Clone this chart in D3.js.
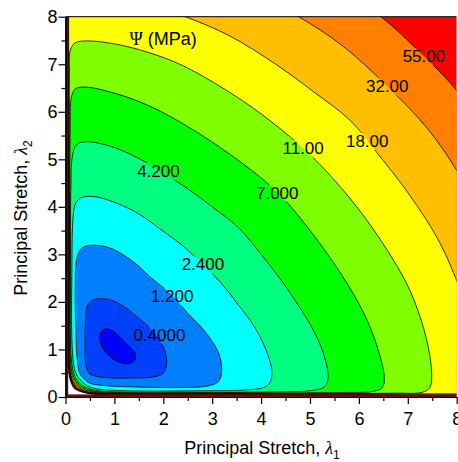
<!DOCTYPE html>
<html>
<head>
<meta charset="utf-8">
<script src="https://cdn.jsdelivr.net/npm/d3@7"></script>
<style>
  body { margin: 0; background: #fff; }
  svg { display: block; font-family: Arial, "Liberation Sans", sans-serif; }
</style>
</head>
<body>
<svg id="chart" width="458" height="462"></svg>
<script>
// contour levels of the strain energy (MPa) and the band colours (band i lies below level i)
const levels = [0.1, 0.4, 1.2, 2.4, 4.2, 7.0, 11, 18, 32, 55];
const bandColors = ['#0000ff', '#0040ff', '#0080ff', '#00ffff', '#00ff80', '#00ff00',
                    '#80ff00', '#ffff00', '#ffbf00', '#ff8000', '#ff0000'];

// contour lines, [lambda1, lambda2]
const c0_1 = [[0.70,1.30],[0.78,1.42],[0.92,1.42],[1.10,1.27],[1.27,1.10],[1.42,0.92],[1.42,0.78],
              [1.30,0.70],[1.12,0.72],[0.95,0.82],[0.82,0.95],[0.72,1.12]];
const c0_4 = [[0.41,1.60],[0.44,1.90],[0.55,2.03],[0.72,2.07],[0.95,2.03],[1.20,1.90],[1.45,1.70],
              [1.70,1.48],[1.90,1.25],[2.03,0.97],[2.07,0.72],[2.00,0.50],[1.80,0.42],[1.40,0.40],
              [0.95,0.40],[0.65,0.43],[0.48,0.50],[0.42,0.65],[0.40,0.95],[0.40,1.30]];
const c1_2 = [[0.20,2.30],[0.23,2.90],[0.32,3.12],[0.50,3.19],[0.90,3.14],[1.38,2.85],[1.76,2.50],
              [2.17,2.15],[2.50,1.76],[2.85,1.38],[3.14,0.90],[3.19,0.50],[3.12,0.32],[2.90,0.23],
              [2.30,0.20],[1.50,0.21],[0.80,0.24],[0.50,0.29],[0.38,0.38],[0.29,0.50],[0.24,0.80],
              [0.21,1.50]];
const c2_4 = [[0.13,2.60],[0.15,3.70],[0.20,4.05],[0.30,4.18],[0.56,4.22],[1.04,4.08],[1.50,3.85],
              [1.93,3.54],[2.40,3.18],[2.80,2.80],[3.18,2.40],[3.54,1.93],[3.85,1.50],[4.08,1.04],
              [4.22,0.56],[4.18,0.30],[4.05,0.20],[3.70,0.15],[2.60,0.13],[1.50,0.125],[0.90,0.145],
              [0.60,0.18],[0.44,0.24],[0.33,0.33],[0.24,0.44],[0.18,0.60],[0.145,0.90],[0.125,1.50]];
const c4_2 = [[0.10,2.20],[0.11,4.40],[0.14,5.05],[0.22,5.30],[0.42,5.37],[0.90,5.28],[1.40,5.07],
              [1.90,4.78],[2.50,4.38],[3.00,4.00],[3.55,3.55],[4.00,3.00],[4.38,2.50],[4.78,1.90],
              [5.07,1.40],[5.28,0.90],[5.37,0.42],[5.30,0.22],[5.05,0.14],[4.40,0.11],[2.20,0.10],
              [1.30,0.10],[0.80,0.12],[0.55,0.155],[0.40,0.21],[0.29,0.29],[0.21,0.40],[0.155,0.55],
              [0.12,0.80],[0.10,1.30]];
const c7_0 = [[0.088,2.50],[0.095,5.60],[0.12,6.30],[0.20,6.48],[0.40,6.52],[1.04,6.38],[1.72,6.12],
              [2.40,5.75],[3.30,5.15],[4.32,4.32],[5.15,3.30],[5.75,2.40],[6.12,1.72],[6.38,1.04],
              [6.52,0.40],[6.48,0.20],[6.30,0.12],[5.60,0.095],[2.50,0.088],[1.20,0.088],[0.72,0.105],
              [0.50,0.14],[0.37,0.19],[0.27,0.27],[0.19,0.37],[0.14,0.50],[0.105,0.72],[0.088,1.20]];
const c11 = [[0.078,3.00],[0.08,6.70],[0.10,7.30],[0.20,7.45],[0.45,7.49],[1.04,7.42],[1.72,7.24],
             [2.40,6.97],[3.40,6.38],[4.20,5.80],[5.05,5.05],[5.80,4.20],[6.38,3.40],[6.97,2.40],
             [7.24,1.72],[7.42,1.04],[7.49,0.45],[7.45,0.20],[7.30,0.10],[6.70,0.08],[3.00,0.078],
             [1.10,0.078],[0.68,0.095],[0.48,0.125],[0.35,0.175],[0.255,0.255],[0.175,0.35],
             [0.125,0.48],[0.095,0.68],[0.078,1.10]];
const c18 = [[0.07,3.00],[0.07,6.00],[0.07,8.40],[0.20,8.45],[0.50,8.47],[1.20,8.38],[1.90,8.18],
             [2.50,7.98],[3.35,7.60],[4.30,7.00],[5.10,6.40],[5.82,5.82],[6.40,5.10],[7.00,4.30],
             [7.60,3.35],[7.98,2.50],[8.18,1.90],[8.38,1.20],[8.47,0.50],[8.45,0.20],[8.40,0.07],
             [6.00,0.07],[3.00,0.07],[1.00,0.07],[0.64,0.085],[0.46,0.11],[0.33,0.16],[0.24,0.24],
             [0.16,0.33],[0.11,0.46],[0.085,0.64],[0.07,1.00]];
const c32 = [[0.064,3.00],[0.064,6.00],[0.064,8.60],[0.064,9.30],[1.50,9.30],[3.00,8.85],[4.00,8.40],
             [4.77,8.00],[5.65,7.40],[6.56,6.56],[7.40,5.65],[8.00,4.77],[8.40,4.00],[8.85,3.00],
             [9.30,1.50],[9.30,0.064],[8.60,0.064],[6.00,0.064],[3.00,0.064],[1.00,0.064],
             [0.62,0.078],[0.44,0.10],[0.32,0.145],[0.225,0.225],[0.145,0.32],[0.10,0.44],
             [0.078,0.62],[0.064,1.00]];
const c55 = [[0.058,3.00],[0.058,6.00],[0.058,9.00],[0.058,10.40],[2.50,10.10],[5.00,9.00],
             [6.45,8.00],[7.25,7.25],[8.00,6.45],[9.00,5.00],[10.10,2.50],[10.40,0.058],
             [9.00,0.058],[6.00,0.058],[3.00,0.058],[1.00,0.058],[0.60,0.07],[0.42,0.09],
             [0.30,0.13],[0.21,0.21],[0.13,0.30],[0.09,0.42],[0.07,0.60],[0.058,1.00]];
const contourLines = [c0_1, c0_4, c1_2, c2_4, c4_2, c7_0, c11, c18, c32, c55];

// edge of the blank corner near the origin
const blankEdge = [[0.00,0.90],[0.05,0.78],[0.065,0.62],[0.09,0.45],[0.13,0.30],[0.19,0.19],
                   [0.30,0.13],[0.45,0.09],[0.62,0.065],[0.78,0.05],[0.90,0.00]];

// contour labels and where they sit on their lines
const labelText = ['0.4000', '1.200', '2.400', '4.200', '7.000', '11.00', '18.00', '32.00', '55.00'];
const labelAt = [[1.92,1.31],[2.18,2.12],[2.81,2.79],[1.90,4.76],[4.33,4.30],[4.86,5.23],
                 [6.17,5.39],[6.58,6.54],[7.33,7.17]];

const majorTicks = [0, 1, 2, 3, 4, 5, 6, 7, 8];
const minorTicks = [0.5, 1.5, 2.5, 3.5, 4.5, 5.5, 6.5, 7.5];

const W = 458, H = 462;
const margin = {top: 16.7, right: 1.3, bottom: 65, left: 65.5};
const width = W - margin.left - margin.right;
const height = H - margin.top - margin.bottom;

const svg = d3.select('#chart');
const x = d3.scaleLinear().domain([0, 8]).range([0, width]);
const y = d3.scaleLinear().domain([0, 8]).range([height, 0]);

const defs = svg.append('defs');
defs.append('clipPath').attr('id', 'plotClip')
  .append('rect').attr('width', width).attr('height', height);
const mask = defs.append('mask').attr('id', 'lblMask').attr('maskUnits', 'userSpaceOnUse')
  .attr('x', -100).attr('y', -100).attr('width', 700).attr('height', 700);
mask.append('rect').attr('x', -100).attr('y', -100).attr('width', 700).attr('height', 700)
  .attr('fill', 'white');

const g = svg.append('g').attr('transform', `translate(${margin.left},${margin.top})`);
const plot = g.append('g').attr('clip-path', 'url(#plotClip)');

const closedLine = d3.line().x(d => x(d[0])).y(d => y(d[1]))
  .curve(d3.curveCatmullRomClosed.alpha(0.5));
const openLine = d3.line().x(d => x(d[0])).y(d => y(d[1]))
  .curve(d3.curveCatmullRom.alpha(0.5));

// band above the top level
plot.append('rect').attr('width', width).attr('height', height).attr('fill', bandColors[levels.length]);

// filled bands, from the highest level inwards
for (let i = levels.length - 1; i >= 0; i--) {
  plot.append('path').attr('d', closedLine(contourLines[i])).attr('fill', bandColors[i]);
}

// blank corner at the origin
plot.append('path')
  .attr('d', openLine(blankEdge) + `L${x(0)},${y(0)}Z`)
  .attr('fill', '#fff');
plot.append('path').attr('d', openLine(blankEdge))
  .attr('fill', 'none').attr('stroke', '#5a0c0c').attr('stroke-width', 2.2);

// contour lines (broken where the labels sit)
const lines = plot.append('g').attr('mask', 'url(#lblMask)');
contourLines.forEach(pts => {
  lines.append('path').attr('d', closedLine(pts))
    .attr('fill', 'none').attr('stroke', '#000').attr('stroke-width', 0.8);
});

// dark strips along the two axes
plot.append('rect').attr('x', 0).attr('y', 0).attr('width', x(0.055)).attr('height', height)
  .attr('fill', '#650c0c');
plot.append('rect').attr('x', 0).attr('y', y(0.055)).attr('width', width).attr('height', height - y(0.055))
  .attr('fill', '#650c0c');

// contour labels
const labels = g.append('g').attr('font-size', 17).attr('text-anchor', 'middle');
labelText.forEach((t, i) => {
  const txt = labels.append('text')
    .attr('x', x(labelAt[i][0])).attr('y', y(labelAt[i][1])).attr('dy', '0.36em')
    .text(t);
  const b = txt.node().getBBox();
  mask.append('rect').attr('x', b.x - 1).attr('y', b.y + 1).attr('width', b.width + 2)
    .attr('height', b.height - 2).attr('fill', 'black');
});

// unit label
const unit = g.append('text').attr('x', x(1.31)).attr('y', y(7.41)).attr('font-size', 18);
unit.append('tspan').attr('font-family', '"Liberation Serif", "Times New Roman", serif').text('\u03A8');
unit.append('tspan').text(' (MPa)');

// top frame line
g.append('line').attr('x1', 0).attr('x2', width).attr('y1', 0).attr('y2', 0)
  .attr('stroke', '#000').attr('stroke-width', 1);

// axes
g.append('g').attr('transform', `translate(0,${height})`)
  .call(d3.axisBottom(x).tickValues(majorTicks).tickSize(7).tickSizeOuter(0).tickPadding(8)
    .tickFormat(d3.format('d')));
g.append('g').attr('transform', `translate(0,${height})`)
  .call(d3.axisBottom(x).tickValues(minorTicks).tickSize(4).tickSizeOuter(0).tickFormat(''));
g.append('g')
  .call(d3.axisLeft(y).tickValues(majorTicks).tickSize(7).tickSizeOuter(0).tickPadding(1)
    .tickFormat(d3.format('d')));
g.append('g')
  .call(d3.axisLeft(y).tickValues(minorTicks).tickSize(4).tickSizeOuter(0).tickFormat(''));

g.selectAll('.domain').attr('stroke', '#000').attr('stroke-width', 1.2);
g.selectAll('.tick line').attr('stroke', '#000').attr('stroke-width', 1.2);
g.selectAll('.tick text').attr('font-size', 18).attr('font-family', 'Arial, "Liberation Sans", sans-serif')
  .attr('fill', '#000');

// axis titles
const xTitle = svg.append('text').attr('x', 262).attr('y', 454)
  .attr('text-anchor', 'middle').attr('font-size', 18);
xTitle.append('tspan').text('Principal Stretch, ');
xTitle.append('tspan').attr('font-style', 'italic')
  .attr('font-family', '"Liberation Serif", "Times New Roman", serif').text('\u03BB');
xTitle.append('tspan').attr('font-size', 12).attr('dy', 5).text('1');

const yTitle = svg.append('text').attr('transform', 'translate(27,218) rotate(-90)')
  .attr('text-anchor', 'middle').attr('font-size', 18);
yTitle.append('tspan').text('Principal Stretch, ');
yTitle.append('tspan').attr('font-style', 'italic')
  .attr('font-family', '"Liberation Serif", "Times New Roman", serif').text('\u03BB');
yTitle.append('tspan').attr('font-size', 12).attr('dy', 5).text('2');
</script>
</body>
</html>
